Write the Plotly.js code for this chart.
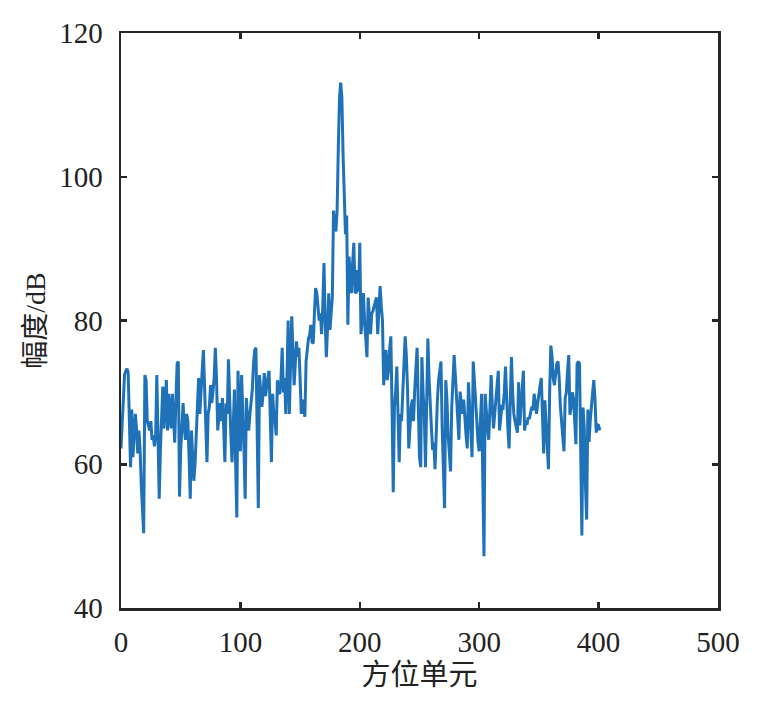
<!DOCTYPE html>
<html>
<head>
<meta charset="utf-8">
<script src="https://cdn.plot.ly/plotly-3.0.1.min.js"></script>
<style>
  html, body { margin: 0; padding: 0; background: #fff; }
  #chart { width: 780px; height: 719px; }
</style>
</head>
<body>
<div id="chart"></div>
<script>
// amplitude (dB) per azimuth cell
var amplitude = [
  62.2, 66, 70, 72.5, 73, 73.3, 72.8, 66, 59.6, 67.6,
  61, 64, 67, 65, 61.5, 64.7, 62, 57, 53, 50.4,
  72.4, 71.7, 66, 65.5, 64.7, 66, 63.4, 64, 62.5, 64,
  72.4, 64, 55.2, 62, 67.9, 70.8, 65, 68, 71.7, 64.7,
  69.8, 67, 65, 69.8, 66, 63, 69, 74, 74.3, 55.5,
  62, 66, 68.5, 65, 63.4, 67, 66, 61, 55.2, 64.7,
  62, 57.7, 60, 64.7, 67, 72, 67, 71, 73, 75.9,
  70.4, 65, 60.3, 67, 68, 71, 68.5, 70, 72, 76.2,
  72, 64.7, 67, 68.5, 66, 69.2, 65, 60.3, 68.5, 67,
  74.6, 67, 64, 60.3, 66, 70.4, 60, 52.6, 73, 66,
  61.8, 72.4, 68, 62, 55.2, 69.2, 66, 64.7, 67, 69,
  70.4, 74, 75.9, 76.2, 65, 53.9, 72.4, 70, 68, 69.8,
  72.7, 69.5, 71, 72, 73, 68, 60.3, 69.8, 67, 66,
  64, 71.7, 70, 69.8, 72, 76.2, 70, 72, 67, 72,
  80, 67, 74, 80.6, 76, 71, 74, 77.1, 75, 76.2,
  72, 67, 69, 67.5, 66.6, 74.3, 76, 77.5, 78, 79.4,
  77, 76.8, 81, 84.5, 83.8, 82, 80, 81, 78.1, 82,
  88, 80, 74.9, 79, 83.8, 78.7, 81, 83.2, 95.3, 93,
  92.4, 95.3, 104, 111, 113.1, 111, 103, 95.3, 92, 94.6,
  79.4, 88.9, 86, 83.8, 88, 90.8, 84, 83.8, 87, 84,
  90.8, 78.1, 80, 83.8, 80, 77, 74.9, 83.2, 80, 78.1,
  81, 81.3, 82, 82.5, 83.2, 78.1, 82, 84.8, 82, 80,
  71, 74, 75.9, 71.7, 73, 76, 77.8, 68, 56.1, 67.9,
  70, 73.6, 66, 60.3, 67, 66, 70, 74, 77.8, 75,
  70.4, 62.2, 66, 67.9, 69, 66, 70.4, 73, 76.2, 68,
  61, 59.6, 74.9, 70, 67, 59.6, 70, 77.5, 72, 67,
  65, 62, 63, 59.3, 66, 69, 71.7, 73, 74.3, 65,
  58, 53.9, 71.7, 69, 64, 62, 59, 68, 72, 75.2,
  72.4, 69, 66, 63.4, 70.1, 68, 67, 69, 66, 64,
  62.2, 71.4, 68, 64, 61, 74.3, 72, 69.2, 66, 63,
  61.8, 66, 69.8, 58, 47.2, 69.8, 67, 65, 63.4, 68,
  72.4, 68, 65, 67, 69, 71, 73, 64.7, 66, 68,
  67.9, 70, 73.6, 68, 65, 62.2, 70, 74.9, 70, 67,
  66, 65, 64.4, 71.4, 65.4, 68, 70, 73, 64.7, 66,
  65.5, 66.5, 66.3, 67, 68, 67.5, 69.8, 68.5, 67, 68.5,
  70, 71, 72, 66, 61.5, 68.9, 66, 62, 59.3, 70,
  76.5, 75, 72, 71, 72.5, 74, 74.3, 72, 68, 66,
  64, 61.8, 69.2, 70, 73, 75.2, 66.9, 68, 70, 69.2,
  66, 62.8, 74, 74.3, 74, 62, 50.1, 67.9, 65, 57,
  52.3, 67.6, 63.1, 66, 68.5, 70, 71.7, 69, 64.4, 65.5,
  65.4, 64.7
];
var cells = amplitude.map(function (v, i) { return i; });

var xTicks = [0, 100, 200, 300, 400, 500];
var yTicks = [40, 60, 80, 100, 120];

var numFont = "Liberation Serif, Times New Roman, serif";
var cjkFont = "Liberation Serif, Noto Sans CJK SC, serif";
var axisColor = "#262626";

var trace = {
  type: "scatter",
  mode: "lines",
  x: cells,
  y: amplitude,
  line: {color: "#1f72b8", width: 3},
  showlegend: false,
  hoverinfo: "x+y"
};

var baseAxis = {
  showline: true,
  linecolor: axisColor,
  linewidth: 2.5,
  mirror: "allticks",
  ticks: "inside",
  ticklen: 6,
  tickwidth: 2.5,
  tickcolor: axisColor,
  showgrid: false,
  zeroline: false,
  tickfont: {family: numFont, size: 29, color: "#222"}
};

var layout = {
  width: 780,
  height: 719,
  margin: {l: 121, r: 62, t: 33, b: 111},
  paper_bgcolor: "#fff",
  plot_bgcolor: "#fff",
  xaxis: Object.assign({}, baseAxis, {
    range: [0, 500],
    tickvals: xTicks,
    ticktext: xTicks.map(String),
    ticklabelstandoff: 7,
    title: {text: "方位单元", font: {family: cjkFont, size: 29, color: "#222"}, standoff: 8}
  }),
  yaxis: Object.assign({}, baseAxis, {
    range: [40, 120],
    tickvals: yTicks,
    ticktext: yTicks.map(String),
    ticklabelstandoff: 10,
    title: {text: "幅度/dB", font: {family: cjkFont, size: 28, color: "#222"}, standoff: 6}
  })
};

Plotly.newPlot("chart", [trace], layout, {displayModeBar: false, staticPlot: true});
</script>
</body>
</html>
